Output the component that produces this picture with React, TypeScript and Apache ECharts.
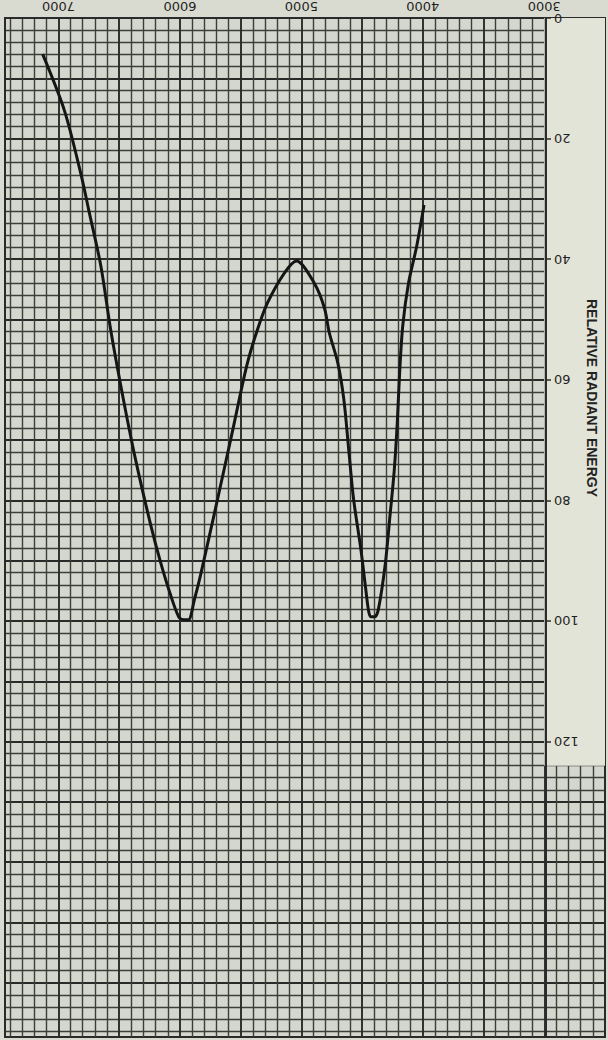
import React, { useEffect, useRef } from "react";
import * as echarts from "echarts";

// Wavelength (Å) and relative radiant energy
const wavelengths = [
  7130, 6950, 6810, 6750, 6650, 6570, 6460, 6360, 6240, 6160, 6080, 6010, 5970, 5930,
  5880, 5830, 5690, 5570, 5450, 5370, 5280, 5140, 5040, 4890, 4810, 4770, 4700, 4650,
  4610, 4570, 4510, 4470, 4445, 4425, 4395, 4365, 4310, 4270, 4235, 4210, 4190, 4165,
  4118, 4051, 3990,
];
const energies = [
  6, 15.4, 26.3, 31.9, 41.2, 51.7, 63.8, 73.7, 84.1, 90.2, 95.5, 99.3, 99.8, 99.8,
  96.4, 92.4, 79.8, 68.8, 57.7, 52.2, 47.3, 42.3, 40.3, 44.1, 48.1, 52.2, 57.2, 63.3,
  71.6, 79.8, 88.1, 94.7, 98.5, 99.3, 99.3, 98, 90.7, 82.5, 75, 67, 58.5, 51,
  44, 37.9, 31,
];
const wavelengthTicks = [3000, 4000, 5000, 6000, 7000];
const energyTicks = [0, 20, 40, 60, 80, 100, 120];
const axisTitle = "RELATIVE RADIANT ENERGY";

const X_MIN = 2500;
const X_MAX = 7440;
const Y_MAX = 169;
const STRIP_END = 124;

export default function App() {
  const ref = useRef<HTMLDivElement>(null);
  useEffect(() => {
    const chart = echarts.init(ref.current!, undefined, { renderer: "svg" });
    const majorLine = { show: true, lineStyle: { color: "#2a2b28", width: 1.9 } };
    const minorLine = { show: true, lineStyle: { color: "#3c3e3a", width: 1.4 } };
    const font = "DejaVu Sans";
    chart.setOption({
      animation: false,
      backgroundColor: "#d9dbd1",
      grid: {
        left: 5,
        right: 0,
        top: 14,
        bottom: 3,
        show: true,
        backgroundColor: "#d4d7cd",
        borderColor: "#2b2b2b",
        borderWidth: 2,
      },
      xAxis: {
        type: "value",
        inverse: true,
        min: X_MIN,
        max: X_MAX,
        interval: 500,
        position: "top",
        axisLine: { show: true, lineStyle: { color: "#2b2b2b", width: 2 } },
        axisTick: { show: false },
        axisLabel: {
          show: true,
          rotate: 180,
          margin: 5,
          fontSize: 13,
          fontFamily: font,
          color: "#1f1f1f",
          showMinLabel: true,
          showMaxLabel: true,
          formatter: (v: number) => (wavelengthTicks.includes(v) ? String(v) : ""),
        },
        splitLine: majorLine,
        minorTick: { show: false, splitNumber: 5 },
        minorSplitLine: minorLine,
      },
      yAxis: [
        {
          type: "value",
          inverse: true,
          min: 0,
          max: Y_MAX,
          interval: 10,
          position: "right",
          axisLine: { show: false },
          axisTick: { show: false },
          axisLabel: { show: false },
          splitLine: majorLine,
          minorTick: { show: false, splitNumber: 5 },
          minorSplitLine: minorLine,
        },
        {
          type: "value",
          inverse: true,
          min: 0,
          max: Y_MAX,
          interval: 20,
          position: "right",
          offset: -59,
          z: 10,
          axisLine: { show: true, onZero: false, lineStyle: { color: "#2b2b2b", width: 2 } },
          axisTick: {
            show: true,
            length: 5,
            customValues: energyTicks,
            lineStyle: { color: "#2b2b2b", width: 1.5 },
          },
          axisLabel: {
            show: true,
            rotate: 180,
            margin: 8,
            fontSize: 13,
            fontFamily: font,
            color: "#1f1f1f",
            customValues: energyTicks,
            formatter: (v: number) => (energyTicks.includes(v) ? String(v) : ""),
          },
          splitLine: { show: false },
        },
      ],
      series: [
        {
          type: "line",
          xAxisIndex: 0,
          yAxisIndex: 0,
          data: wavelengths.map((w, i) => [w, energies[i]]),
          symbol: "none",
          smooth: 0.3,
          lineStyle: { color: "#151515", width: 3 },
          z: 5,
          markArea: {
            silent: true,
            itemStyle: { color: "#e2e4d8" },
            data: [[{ xAxis: X_MIN, yAxis: 0 }, { xAxis: 3000, yAxis: STRIP_END }]],
          },
        },
      ],
      graphic: [
        {
          type: "text",
          x: 592,
          y: 398,
          rotation: -Math.PI / 2,
          z: 20,
          style: {
            text: axisTitle,
            fontSize: 14,
            fontWeight: "bold",
            fontFamily: "Liberation Sans",
            fill: "#222222",
            align: "center",
            verticalAlign: "middle",
          },
        },
      ],
    });
    return () => chart.dispose();
  }, []);
  return (
    <div
      ref={ref}
      style={{ position: "absolute", left: 0, top: 0, width: 608, height: 1040 }}
    />
  );
}
